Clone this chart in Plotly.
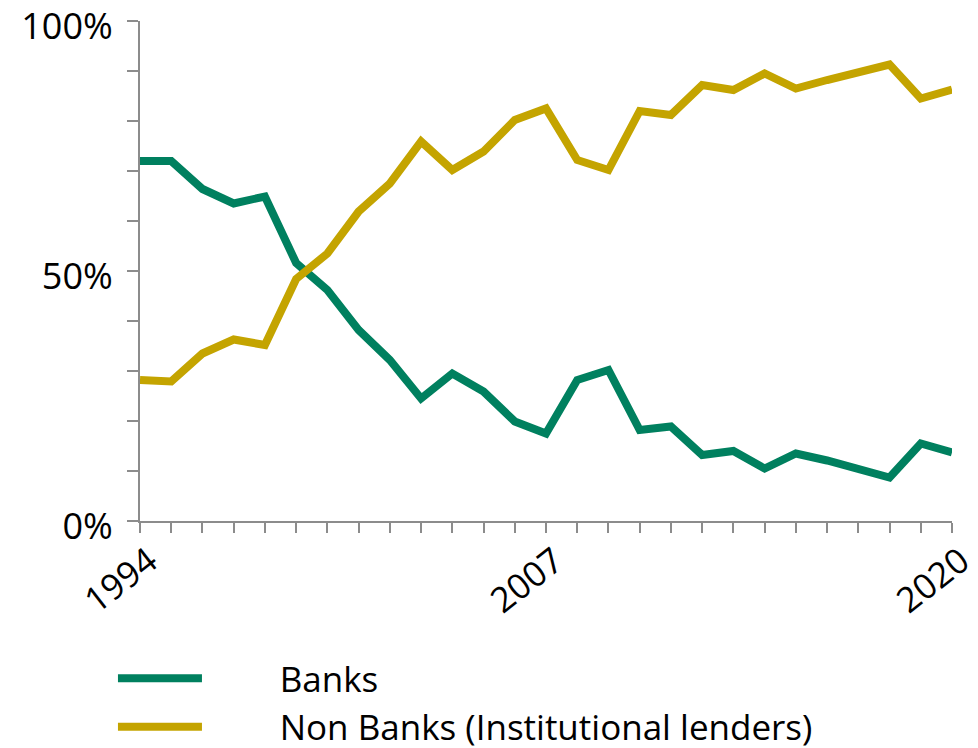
import plotly.graph_objects as go

years = list(range(1994, 2021))
banks = [72.0, 72.0, 66.4, 63.5, 64.9, 51.6, 46.2, 38.2, 32.2, 24.5, 29.5, 25.9, 19.9, 17.5,
         28.2, 30.2, 18.2, 18.9, 13.2, 14.0, 10.5, 13.5, 12.1, 10.4, 8.7, 15.5, 13.7]
non_banks = [28.2, 27.9, 33.5, 36.3, 35.2, 48.4, 53.5, 61.9, 67.5, 75.9, 70.2, 73.9, 80.2, 82.5,
             72.2, 70.2, 82.0, 81.2, 87.2, 86.2, 89.5, 86.5, 88.2, 89.7, 91.3, 84.5, 86.3]
x_tick_vals = [1994, 2007, 2020]
y_tick_vals = [0, 50, 100]
y_tick_text = ["0%", "50%", "100%"]
series_names = ["Banks", "Non Banks (Institutional lenders)"]

GREEN = "#00805F"
GOLD = "#C4A400"
AXIS = "#8C8C8C"
FONT = "Open Sans"
PAD = "\u00a0" * 8  # gap between legend line sample and its text

fig = go.Figure()
fig.add_trace(go.Scatter(x=years, y=banks, mode="lines", name=PAD + series_names[0],
                         line=dict(color=GREEN, width=8), legendgroup="a"))
fig.add_trace(go.Scatter(x=years, y=non_banks, mode="lines", name=PAD + series_names[1],
                         line=dict(color=GOLD, width=8), legendgroup="b"))

# page body has an 8px margin, so the figure is 970x740 placed at (8, 8)
fig.update_layout(
    width=970, height=740,
    margin=dict(l=132, r=26, t=13, b=227, autoexpand=False),
    plot_bgcolor="white", paper_bgcolor="white",
    font=dict(family=FONT, color="black"),
    showlegend=True,
    legend=dict(orientation="v", x=-0.0333, xanchor="left", y=-0.256, yanchor="top",
                font=dict(size=35, family=FONT), itemwidth=84, tracegroupgap=0,
                traceorder="grouped"),
    xaxis=dict(range=[1994, 2020], tickvals=x_tick_vals, ticktext=[str(v) for v in x_tick_vals],
               ticks="outside", ticklen=10, tickwidth=2, tickcolor=AXIS, automargin=False,
               showline=True, linecolor=AXIS, linewidth=2, showgrid=False, zeroline=False,
               tickangle=-38, ticklabelshift=9, ticklabelstandoff=-6, ticklabeloverflow="allow",
               tickfont=dict(size=35, family=FONT),
               minor=dict(dtick=1, ticks="outside", ticklen=10, tickwidth=2, tickcolor=AXIS, showgrid=False)),
    yaxis=dict(range=[0, 100], tickvals=y_tick_vals, ticktext=y_tick_text,
               ticks="outside", ticklen=11, tickwidth=2, tickcolor=AXIS, automargin=False,
               showline=True, linecolor=AXIS, linewidth=2, showgrid=False, zeroline=False,
               ticklabelstandoff=7, ticklabelshift=5, ticklabeloverflow="allow",
               tickfont=dict(size=36, family=FONT),
               minor=dict(dtick=10, ticks="outside", ticklen=11, tickwidth=2, tickcolor=AXIS, showgrid=False)),
)

fig.write_html("out.html")
